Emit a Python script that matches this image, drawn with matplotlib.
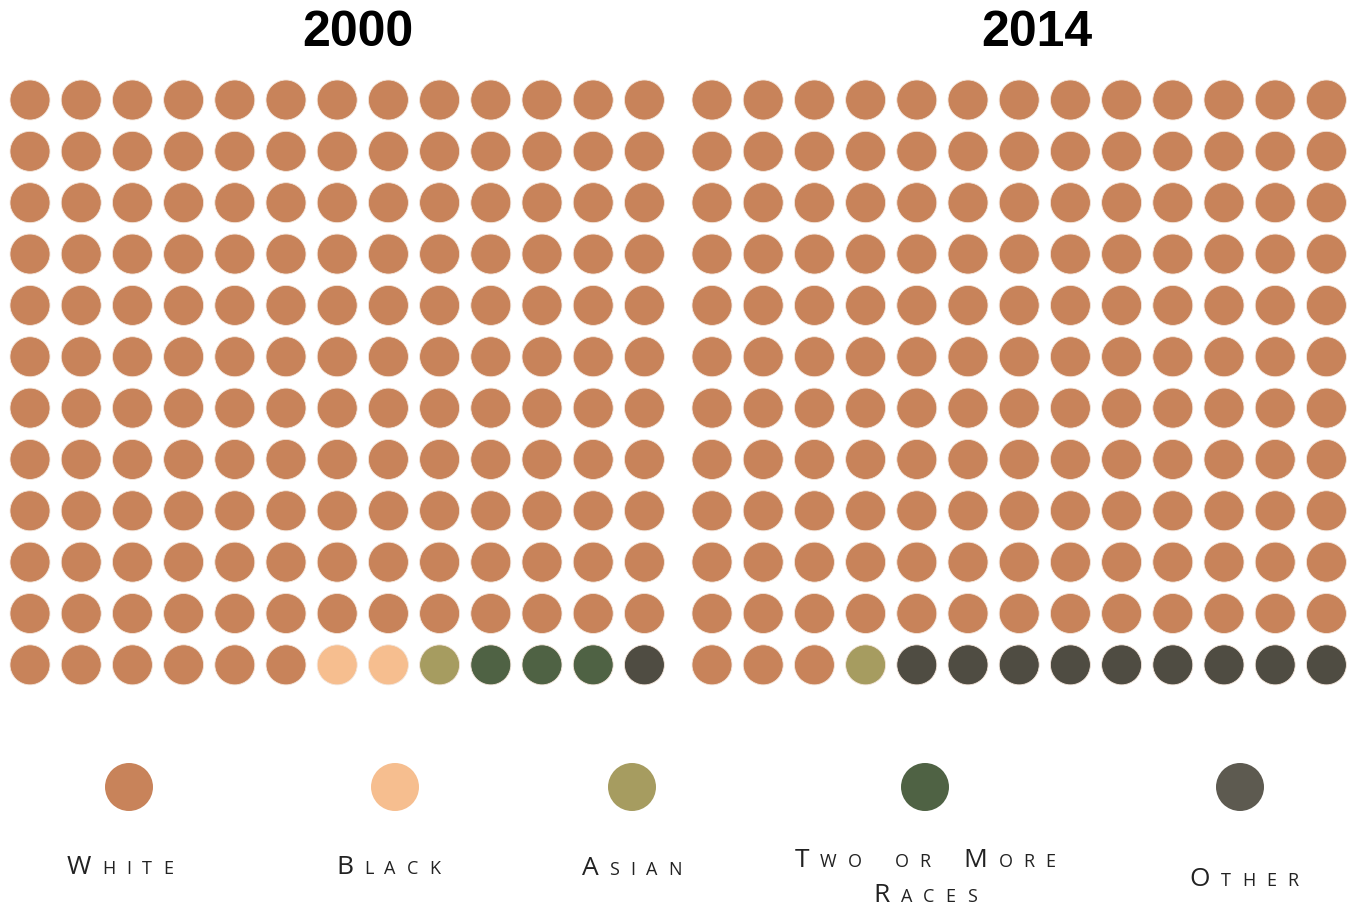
import matplotlib.pyplot as plt

# data
years = ["2000", "2014"]
groups = ["White", "Black", "Asian", "Two or More Races", "Other"]
counts_2000 = [149, 2, 1, 3, 1]
counts_2014 = [146, 0, 1, 0, 9]
grid_colors = ["#C8835A", "#F6BE8F", "#A69C60", "#4F6244", "#4F4C42"]
legend_colors = ["#C8835A", "#F6BE8F", "#A69C60", "#4F6244", "#5D5A50"]
label_lines = [["White"], ["Black"], ["Asian"], ["Two or More", "Races"], ["Other"]]

W, H = 1354, 907
fig = plt.figure(figsize=(W / 100, H / 100), dpi=100)
ax = fig.add_axes([0, 0, 1, 1])
ax.set_xlim(0, W)
ax.set_ylim(H, 0)
ax.axis("off")

ncols, nrows = 13, 12
dx, dy = 51.2, 51.35
panel_x0 = [30, 712]
y0 = 100
title_x = [358, 1037]
dot_s = (40 * 0.72) ** 2

for p, counts in enumerate([counts_2000, counts_2014]):
    cols = []
    for c, n in zip(grid_colors, counts):
        cols += [c] * n
    xs = [panel_x0[p] + (i % ncols) * dx for i in range(len(cols))]
    ys = [y0 + (i // ncols) * dy for i in range(len(cols))]
    ax.scatter(xs, ys, s=dot_s, c=cols, edgecolors="#f3e6dc", linewidths=0.6)
    ax.text(title_x[p], 46, years[p], ha="center", va="baseline",
            fontsize=36, fontweight="bold", family="Liberation Sans")

# legend
leg_x = [129, 395, 632, 925, 1240]
leg_y = 787
ax.scatter(leg_x, [leg_y] * len(leg_x), s=(48 * 0.72) ** 2, c=legend_colors,
           linewidths=0)

renderer = fig.canvas.get_renderer()


def small_caps(cx, cy, text):
    # draw text as spaced small caps centred at cx
    parts = []
    for word in text.split(" "):
        for k, ch in enumerate(word):
            big = k == 0 and ch.isupper()
            parts.append((ch.upper(), 19 if big else 13))
        parts.append((" ", 13))
    parts = parts[:-1]
    track = 11
    widths = []
    for ch, size in parts:
        if ch == " ":
            widths.append(11)
            continue
        t = ax.text(0, 0, ch, fontsize=size, family="Open Sans")
        bb = t.get_window_extent(renderer)
        widths.append(bb.width)
        t.remove()
    total = sum(widths) + track * (len(parts) - 1)
    x = cx - total / 2
    for (ch, size), w in zip(parts, widths):
        if ch != " ":
            ax.text(x, cy, ch, fontsize=size, family="Open Sans",
                    color="#222222", ha="left", va="baseline")
        x += w + track


label_base = [[874], [874], [875], [867, 902], [886]]
label_cx = [120, 388, 632, 925, 1244]
for lines, cx, bases in zip(label_lines, label_cx, label_base):
    for line, b in zip(lines, bases):
        small_caps(cx, b, line)

fig.savefig("out.png", dpi=100, facecolor="white")
